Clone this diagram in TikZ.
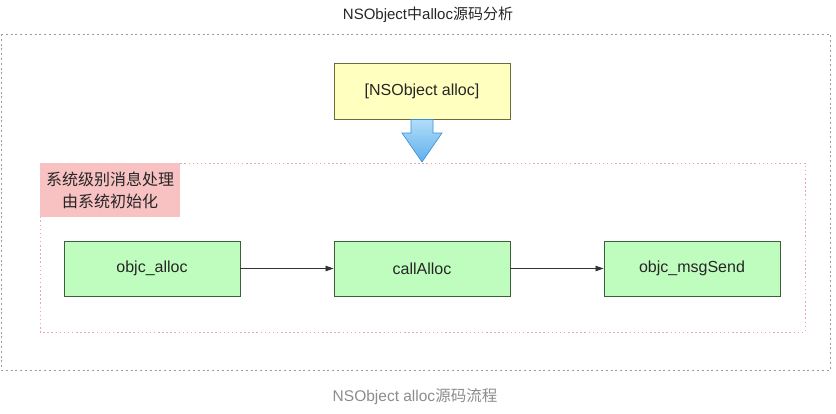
\documentclass[tikz,border=0pt]{standalone}
\usepackage{fontspec}
\setmainfont{Liberation Sans}
\newfontfamily\cjk{Noto Sans CJK SC}
\usetikzlibrary{arrows.meta,shadings}
\definecolor{yfill}{HTML}{FFFFC0}
\definecolor{ydraw}{HTML}{6B6B3C}
\definecolor{gfill}{HTML}{BFFDBE}
\definecolor{gdraw}{HTML}{3E5E3E}
\definecolor{pfill}{HTML}{F8C1C2}
\definecolor{pline}{HTML}{E6A6B6}
\definecolor{oline}{HTML}{9A9A9A}
\definecolor{atop}{HTML}{B2DDF9}
\definecolor{abot}{HTML}{5DB0EC}
\definecolor{adraw}{HTML}{3C8DD6}
\tikzset{
  greenbox/.style={draw=gdraw, fill=gfill, line width=0.9pt, minimum width=176pt, minimum height=55pt, inner sep=0pt, font=\fontsize{16}{19}\selectfont, text=black!85},
  yellowbox/.style={draw=ydraw, fill=yfill, line width=0.9pt, minimum width=176pt, minimum height=56pt, inner sep=0pt, font=\fontsize{16}{19}\selectfont, text=black!85},
  flow/.style={-{Triangle[length=8pt,width=5.5pt]}, line width=0.8pt, draw=black!80},
}
\begin{document}
\begin{tikzpicture}[x=1pt,y=-1pt]
\useasboundingbox (0,0) rectangle (836,413);
% outer dotted frame
\draw[oline, line width=1pt, dash pattern=on 2pt off 2.8pt] (1,34) rectangle (830,370);
% title
\node[font=\fontsize{15}{18}\selectfont, text=black!85] (title) at (428,15) {NSObject{\cjk 中}alloc{\cjk 源码分析}};
% caption
\node[font=\fontsize{15.5}{18}\selectfont, text=black!45] (caption) at (415,397) {NSObject alloc{\cjk 源码流程}};
% pink dotted group
\draw[pline, line width=0.9pt, dash pattern=on 1.5pt off 2.6pt] (40,163) rectangle (805,332);
\node[fill=pfill, minimum width=140pt, minimum height=54pt, inner sep=0pt, anchor=north west, align=center, font=\cjk\fontsize{16}{22}\selectfont, text=black!85] (label) at (40,163) {系统级别消息处理\\由系统初始化};
% top box
\node[yellowbox] (ns) at (422,91) {[NSObject alloc]};
% green boxes
\node[greenbox] (a) at (152,268.5) {objc\_alloc};
\node[greenbox] (b) at (422,268.5) {callAlloc};
\node[greenbox] (c) at (692,268.5) {objc\_msgSend};
% block arrow
\coordinate (tip) at (422,162);
\coordinate (arrtop) at (ns.south);
\shade[top color=atop, bottom color=abot, draw=adraw, line width=0.6pt]
  ([xshift=-11pt]arrtop) -- ([xshift=11pt]arrtop) -- (433,133) -- (442,133) -- (tip) -- (402,133) -- (411,133) -- cycle;
% connectors
\draw[flow] (a.east) -- (b.west);
\draw[flow] (b.east) -- (c.west);
\end{tikzpicture}
\end{document}
